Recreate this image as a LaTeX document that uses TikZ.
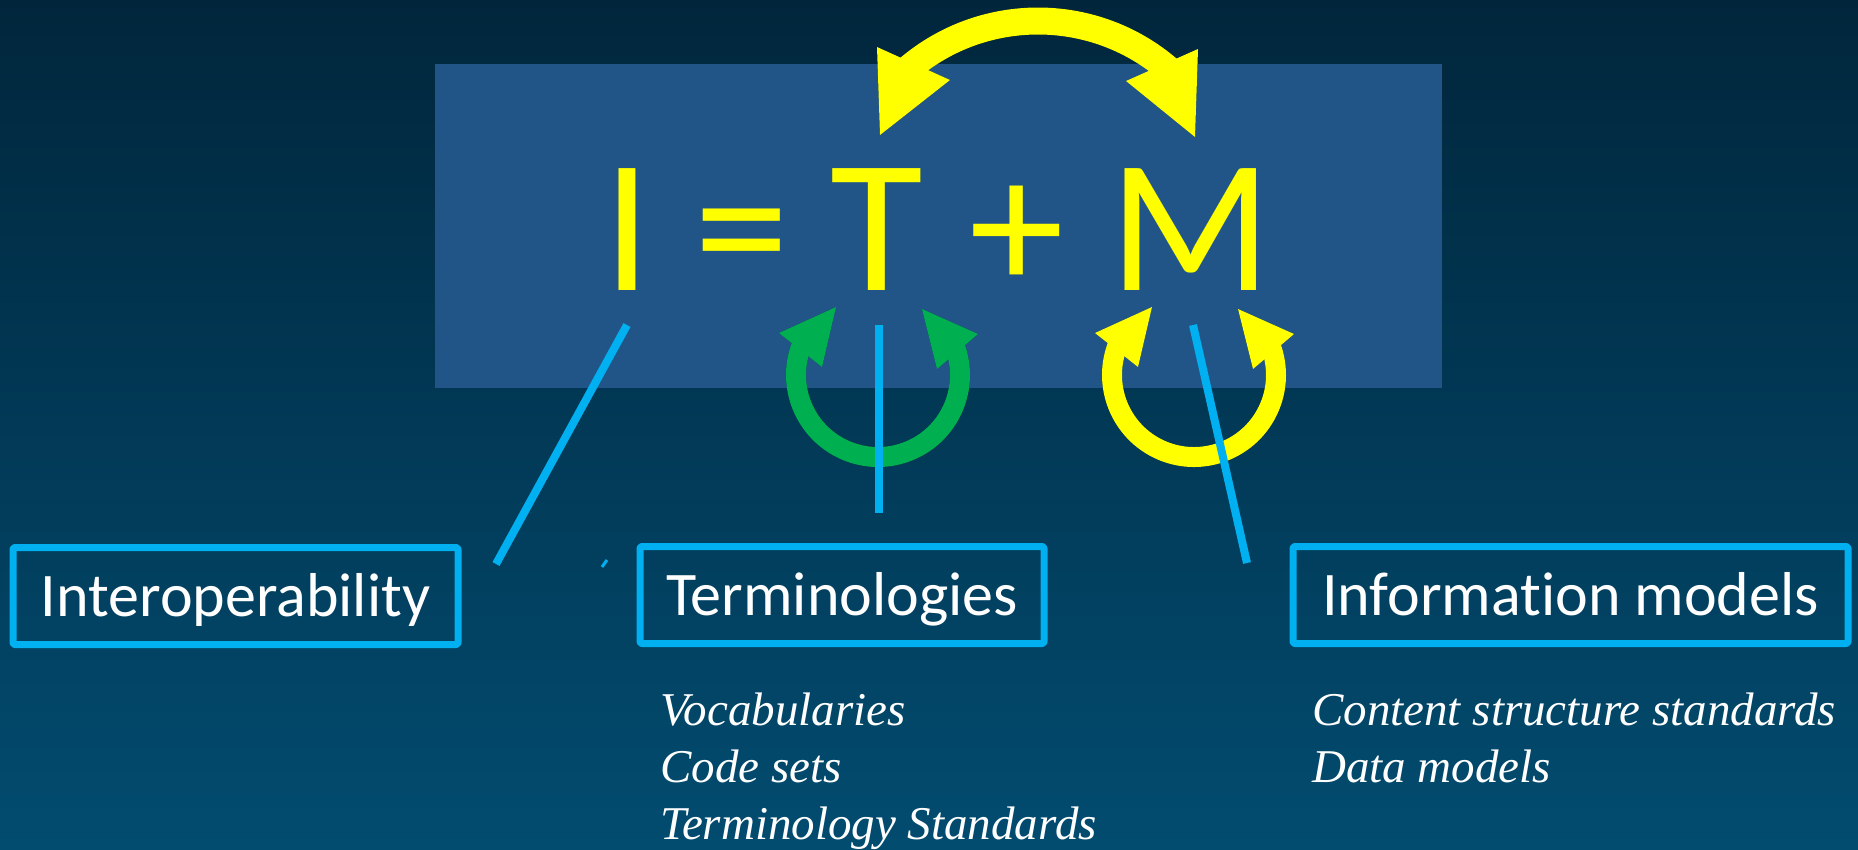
\documentclass[tikz,border=0pt]{standalone}
\usepackage{fontspec}
\setmainfont{Carlito}[Ligatures=NoCommon]
\newfontfamily\listfont{Liberation Serif}
\usepackage{tikz}
\definecolor{bgtop}{RGB}{1,38,60}
\definecolor{bgbot}{RGB}{2,76,112}
\definecolor{panel}{RGB}{33,85,135}
\definecolor{hilite}{RGB}{255,255,0}
\definecolor{leafgreen}{RGB}{0,176,80}
\definecolor{skyline}{RGB}{0,176,240}
\tikzset{
  eqsym/.style={text=hilite,font=\fontsize{190}{190}\selectfont,inner sep=0pt,anchor=base},
  termbox/.style={draw=skyline,line width=7pt,rounded corners=2pt,text=white,
    font=\fontsize{62}{62}\selectfont,minimum height=97pt,text height=40pt,text depth=0pt,inner sep=0pt},
  leader/.style={draw=skyline,line width=8pt},
  % anchored at the baseline of the last line
  sublist/.style={text=white,font=\listfont\itshape\fontsize{47}{57}\selectfont,align=left,anchor=base west,inner sep=0pt},
  % block arrow bending over the top of the equation
  swap arrow/.pic={
    \draw[line width=27pt] (132:200) arc[start angle=132,end angle=48,radius=200];
    \fill (-161,174) -- (-88,141) -- (-158,86) -- cycle;
    \fill (160,172) -- (88,140) -- (157,84) -- cycle;
  },
  % U-shaped block arrow under a letter
  loop arrow/.pic={
    \draw[line width=20pt] (154:82) arc[start angle=154,end angle=385,radius=82];
    \fill (-99,42) -- (-56,8) -- (-42,68) -- cycle;
    \fill (100,41) -- (59,6) -- (44,66) -- cycle;
  }
}

\begin{document}
\begin{tikzpicture}[x=1pt,y=1pt,line join=round]
\useasboundingbox (0,0) rectangle (1858,-849);
\shade[top color=bgtop,bottom color=bgbot] (0,0) rectangle (1858,-849);
\fill[panel] (435,-64) rectangle (1442,-388);

% --- the equation
\node[eqsym] (eqI) at (627,-290) {I};
\node[eqsym] (eqEq) at (742,-290) {=};
\node[eqsym] (eqT) at (877,-290) {T};
\node[eqsym] (eqPlus) at (1017,-290) {+};
\node[eqsym] (eqM) at (1191,-290) {M};

% --- arrows, shadow first
\coordinate (topC) at (1038,-221);
\coordinate (tLoop) at (878,-375);
\coordinate (mLoop) at (1194,-375);
\begin{scope}[shift={(5,-5)},color=black,opacity=.35]
\pic at (topC) {swap arrow};
\pic at (tLoop) {loop arrow};
\pic at (mLoop) {loop arrow};
\end{scope}
\pic[color=hilite] at (topC) {swap arrow};
\pic[color=leafgreen] at (tLoop) {loop arrow};
\pic[color=hilite] at (mLoop) {loop arrow};

% --- labels
\node[termbox,minimum width=445pt] (interop) at (235.5,-596) {Interoperability};
\node[termbox,minimum width=404pt] (termin) at (842,-595) {Terminologies};
\node[termbox,minimum width=555pt] (infomod) at (1570.5,-595) {Information models};

\node[sublist] (termlist) at (660,-839) {Vocabularies\\Code sets\\Terminology Standards};
\node[sublist] (modlist) at (1312,-782) {Content structure standards\\Data models};

% --- leader lines from the letters
\coordinate (iFoot) at (496,-564);
\coordinate (tFoot) at (879,-513);
\coordinate (mFoot) at (1247,-563);
\draw[leader] (eqI.base) ++(0,-35) -- (iFoot);
\draw[leader] (eqT.base) ++(2,-35) -- (tFoot);
\draw[leader] (eqM.base) ++(2,-35) -- (mFoot);
\draw[skyline,line width=3pt] (602,-567) -- (607,-560);
\end{tikzpicture}
\end{document}
